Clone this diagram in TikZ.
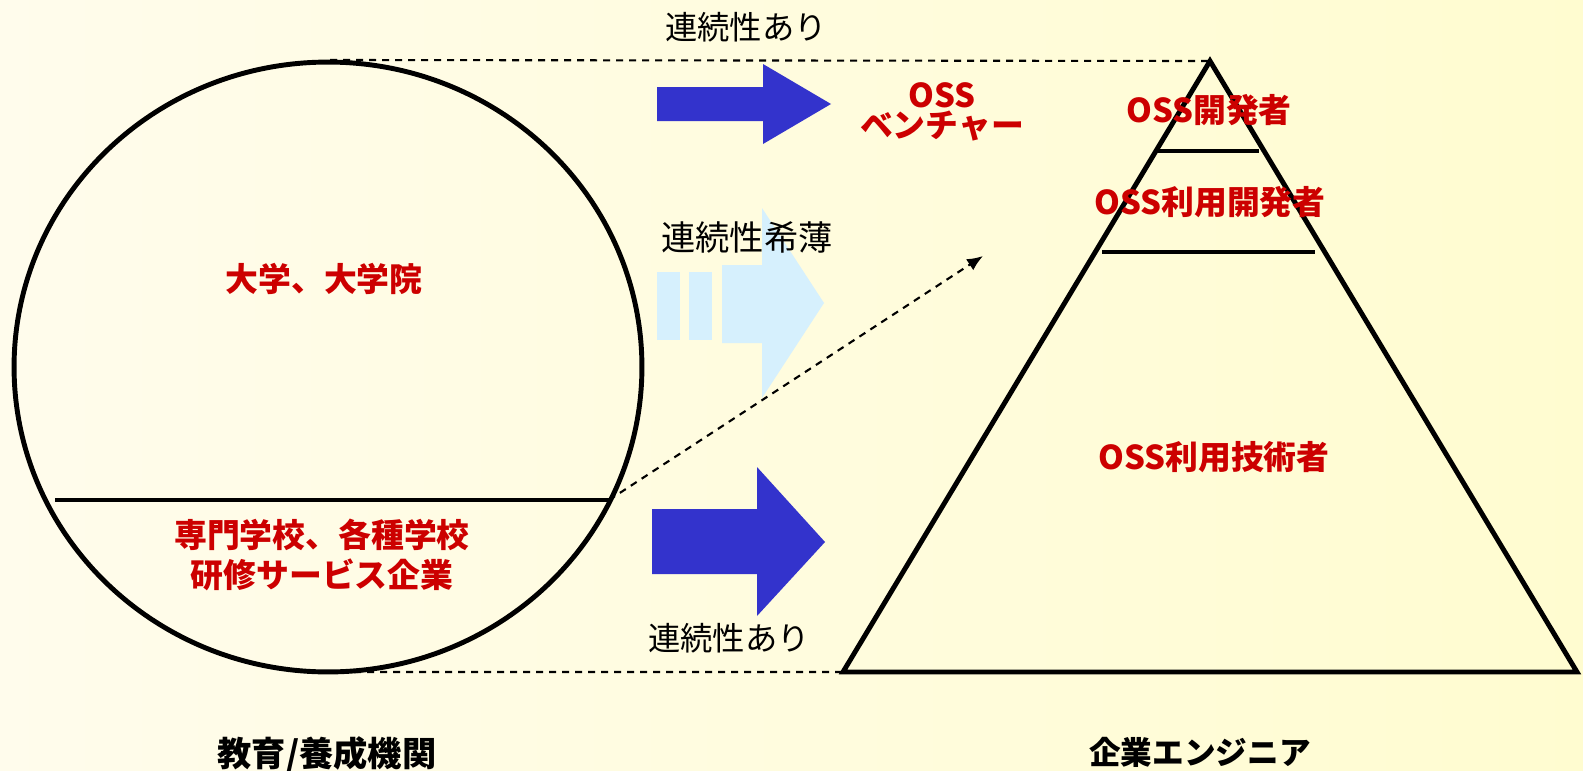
\documentclass[tikz,border=0pt]{standalone}
\usepackage{fontspec}
\setmainfont{Noto Sans CJK JP}
\usetikzlibrary{shapes.geometric,arrows.meta}
\definecolor{ossred}{RGB}{204,0,0}
\definecolor{arrowblue}{RGB}{51,51,204}
\definecolor{paleblue}{RGB}{214,240,253}
\definecolor{bgleft}{RGB}{255,252,236}
\definecolor{bgright}{RGB}{255,252,208}

\begin{document}
\begin{tikzpicture}[x=0.02cm, y=-0.02cm,
		red node/.style={text=ossred, inner sep=0pt, align=center, font=\bfseries\fontsize{18.7}{22.7}\selectfont},
		black node/.style={inner sep=0pt, font=\fontsize{18.4}{22}\selectfont},
		title node/.style={inner sep=0pt, font=\bfseries\fontsize{19.5}{23}\selectfont},
		guide line/.style={line width=1.2pt, dash pattern=on 4pt off 3.4pt},
		thick line/.style={line width=2.8pt}]

	\shade[left color=bgleft, right color=bgright] (0,0) rectangle (1583,771);
	\useasboundingbox (0,0) rectangle (1583,771);

	\node[ellipse, draw, thick line, minimum width=12.56cm, minimum height=12.2cm, inner sep=0pt, outer sep=0pt] (school) at (328,367) {};
	\coordinate (cut west) at (55,500);
	\coordinate (cut east) at (609,500);
	\draw[thick line] (cut west) -- (cut east);

	\coordinate (apex) at (1210,61);
	\coordinate (base left) at (843,672);
	\coordinate (base right) at (1577,672);
	\draw[thick line] (apex) -- (base left) -- (base right) -- cycle;
	\draw[thick line] (1157,151) -- (1259,151);
	\draw[thick line] (1102,252) -- (1315,252);

	\fill[arrowblue] (657,87) -- (763,87) -- (763,64) -- (831,104) -- (763,144) -- (763,121) -- (657,121) -- cycle;
	\fill[arrowblue] (652,509) -- (757,509) -- (757,467) -- (825,542) -- (757,616) -- (757,574) -- (652,574) -- cycle;
	\fill[paleblue] (657,272) rectangle (680,340);
	\fill[paleblue] (689,272) rectangle (712,340);
	\fill[paleblue] (722,265) -- (762,265) -- (762,208) -- (824,303) -- (762,398) -- (762,343) -- (722,343) -- cycle;

	\coordinate (top from) at (330,60);
	\coordinate (weak tip) at (983,256);
	\path[guide line]
	(top from) edge (apex)
	(school.south) edge (base left)
	(cut east) edge[-{Latex[length=9pt,width=7.5pt]}] (weak tip);

	\node[black node] (link top) at (746,27) {連続性あり};
	\node[black node, font=\fontsize{19.5}{22}\selectfont] (link weak) at (747,237) {連続性希薄};
	\node[black node] (link bottom) at (729,638) {連続性あり};

	\node[red node, font=\bfseries\fontsize{18.7}{17}\selectfont] (venture) at (942,112) {OSS\\ベンチャー};
	\node[red node] (univ) at (324,279) {大学、大学院};
	\node[red node] (college) at (322,555) {専門学校、各種学校\\研修サービス企業};
	\node[red node] (dev) at (1209,110) {OSS開発者};
	\node[red node] (userdev) at (1210,202) {OSS利用開発者};
	\node[red node] (tech) at (1214,457) {OSS利用技術者};

	\node[title node] (edu) at (327,755) {教育/養成機関};
	\node[title node, font=\bfseries\fontsize{18}{22}\selectfont] (eng) at (1200,752) {企業エンジニア};
\end{tikzpicture}
\end{document}
